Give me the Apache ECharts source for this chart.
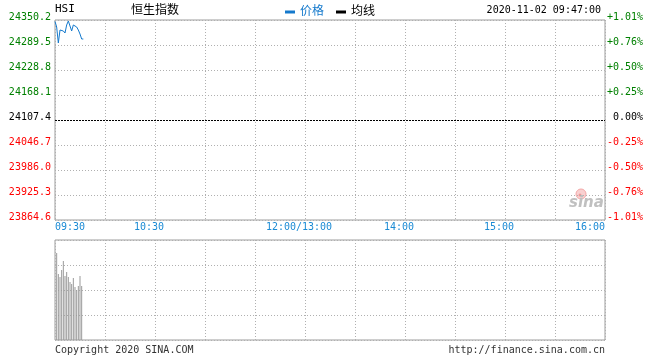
<!DOCTYPE html>
<html><head><meta charset="utf-8">
<script src="https://cdn.jsdelivr.net/npm/echarts@6/dist/echarts.min.js"></script>
<style>html,body{margin:0;padding:0;background:#fff}#c{width:660px;height:360px}</style>
</head><body><div id="c"></div>
<script>
// ---- data ----
const symbol = 'HSI';
const indexName = '恒生指数';
const stamp = '2020-11-02 09:47:00';
const prevClose = 24107.4;
const priceStep = 60.7;
const times = ['09:30','09:31','09:32','09:33','09:34','09:35','09:36','09:37','09:38',
               '09:39','09:40','09:41','09:42','09:43','09:44','09:45','09:46','09:47'];
const prices = [24346.6,24333.2,24294.4,24325.9,24328.3,24323.5,24318.6,24338.1,24347.8,
                24345.3,24323.5,24338.1,24342.9,24333.2,24325.9,24316.2,24304.1,24304.1];
const volumes = [null,87,66,63,70,79,64,68,63,58,56,62,53,50,54,64,54,null];
const tickLabels = ['09:30','10:30','12:00/13:00','14:00','15:00','16:00'];
const legendNames = ['价格','均线'];
const avgPrices = [];

// ---- helpers ----
function minuteOf(t){
  const p = t.split('/')[0].split(':');
  let m = (+p[0])*60 + (+p[1]) - 570;
  if (m > 150) m -= 60;
  return m;
}
const tickMap = {};
tickLabels.forEach(t => { tickMap[minuteOf(t)] = t; });
const lastTick = minuteOf(tickLabels[tickLabels.length-1]);
const toUnit = p => (p - prevClose) / priceStep;

const mono = '"DejaVu Sans Mono", "Noto Sans CJK SC", monospace';
const BLUE = '#1479cc';
const TIME_BLUE = '#1a8ad4';
const GREEN = '#008000';
const RED = '#ff0000';
const dotted = {color:'#b0b0b0', type:[1,2], width:1};

function sideLabel(isPct){
  const base = {fontFamily:mono, fontSize:10, lineHeight:5};
  return {
    show:true, fontFamily:mono, fontSize:10, verticalAlign:'bottom', lineHeight:5,
    margin: isPct ? 2 : 4,
    formatter: v => {
      const r = Math.round(v);
      let s;
      if (isPct) {
        const pct = r*priceStep/prevClose*100;
        s = (r>0?'+':(r<0?'-':' ')) + Math.abs(pct).toFixed(2) + '%';
      } else {
        s = (prevClose + r*priceStep).toFixed(1);
      }
      const k = r>0 ? 'g' : (r<0 ? 'r' : 'k');
      return '{' + k + '|' + s + '}';
    },
    rich:{
      g:Object.assign({color:GREEN}, base),
      r:Object.assign({color:RED}, base),
      k:Object.assign({color:'#000'}, base)
    }
  };
}

const chart = echarts.init(document.getElementById('c'), null, {renderer:'canvas'});
chart.setOption({
  backgroundColor:'#fff',
  animation:false,
  title:[
    {text:symbol, left:55, top:4, padding:0, textStyle:{fontFamily:mono, fontSize:11, fontWeight:'normal', color:'#000'}},
    {text:indexName, left:131, top:5, padding:0, textStyle:{fontFamily:mono, fontSize:12, fontWeight:'normal', color:'#000'}},
    {text:stamp, right:59, top:5, padding:0, textStyle:{fontFamily:mono, fontSize:10, fontWeight:'normal', color:'#000'}},
    {text:'Copyright 2020 SINA.COM', left:55, top:345, padding:0, textStyle:{fontFamily:mono, fontSize:10, fontWeight:'normal', color:'#333'}},
    {text:'http://finance.sina.com.cn', right:55, top:345, padding:0, textStyle:{fontFamily:mono, fontSize:10, fontWeight:'normal', color:'#333'}}
  ],
  legend:{
    left:285, top:6, padding:0, icon:'rect', itemWidth:10, itemHeight:3, itemGap:12,
    textStyle:{fontFamily:mono, fontSize:12},
    data:[
      {name:legendNames[0], textStyle:{color:BLUE}},
      {name:legendNames[1], textStyle:{color:'#000'}}
    ],
    selectedMode:false
  },
  grid:[
    {left:55, top:20, width:550, height:200, show:true, borderColor:'#9c9c9c', borderWidth:1, backgroundColor:'transparent'},
    {left:55, top:240, width:550, height:100, show:true, borderColor:'#9c9c9c', borderWidth:1, backgroundColor:'transparent'}
  ],
  xAxis:[
    {type:'value', gridIndex:0, min:0, max:lastTick, interval:30,
     axisLine:{show:false}, axisTick:{show:false},
     splitLine:{show:true, lineStyle:dotted},
     axisLabel:{show:true, margin:2, fontFamily:mono, fontSize:10, color:TIME_BLUE,
       showMinLabel:true, showMaxLabel:true,
       formatter: v => {
         const t = tickMap[v];
         if (!t) return '';
         if (v === 0) return '{f|' + t + '}';
         if (v === lastTick) return '{l|' + t + '}';
         return '{m|' + t + '}';
       },
       rich:{
         f:{padding:[0,0,0,30], color:TIME_BLUE, fontFamily:mono, fontSize:10},
         l:{padding:[0,30,0,0], color:TIME_BLUE, fontFamily:mono, fontSize:10},
         m:{padding:[0,12,0,0], color:TIME_BLUE, fontFamily:mono, fontSize:10}
       }}},
    {type:'value', gridIndex:1, min:0, max:lastTick, interval:30,
     axisLine:{show:false}, axisTick:{show:false}, axisLabel:{show:false},
     splitLine:{show:true, lineStyle:dotted}}
  ],
  yAxis:[
    {type:'value', gridIndex:0, position:'left', min:-4, max:4, interval:1,
     axisLine:{show:false}, axisTick:{show:false},
     splitLine:{show:true, lineStyle:dotted}, axisLabel:sideLabel(false)},
    {type:'value', gridIndex:0, position:'right', min:-4, max:4, interval:1,
     axisLine:{show:false}, axisTick:{show:false},
     splitLine:{show:false}, axisLabel:sideLabel(true)},
    {type:'value', gridIndex:1, min:0, max:100, interval:25,
     axisLine:{show:false}, axisTick:{show:false}, axisLabel:{show:false},
     splitLine:{show:true, lineStyle:dotted}}
  ],
  series:[
    {name:legendNames[0], type:'line', xAxisIndex:0, yAxisIndex:0, symbol:'none',
     lineStyle:{color:BLUE, width:1}, itemStyle:{color:BLUE},
     data: times.map((t,i) => [minuteOf(t), toUnit(prices[i])]),
     markLine:{silent:true, symbol:'none', label:{show:false},
       lineStyle:{color:'#000', type:[2,1], width:1},
       data:[{yAxis:0}]}},
    {name:legendNames[1], type:'line', xAxisIndex:0, yAxisIndex:0, symbol:'none',
     lineStyle:{color:'#000', width:1}, itemStyle:{color:'#000'},
     data: avgPrices},
    {name:'成交量', type:'bar', xAxisIndex:1, yAxisIndex:2, barWidth:1,
     itemStyle:{color:'#9a9a9a'},
     data: times.map((t,i) => [minuteOf(t), volumes[i]])}
  ],
  graphic:[
    {type:'circle', shape:{cx:581, cy:194, r:5}, style:{fill:'#f9d0d0', stroke:'#f4a8a8', lineWidth:1}, z:0},
    {type:'circle', shape:{cx:580, cy:195, r:1.5}, style:{fill:'#e99'}, z:0},
    {type:'text', left:569, top:196, z:0,
     style:{text:'sina', font:'italic bold 15px "DejaVu Sans"', fill:'#c0c0c0'}}
  ]
});
</script></body></html>
